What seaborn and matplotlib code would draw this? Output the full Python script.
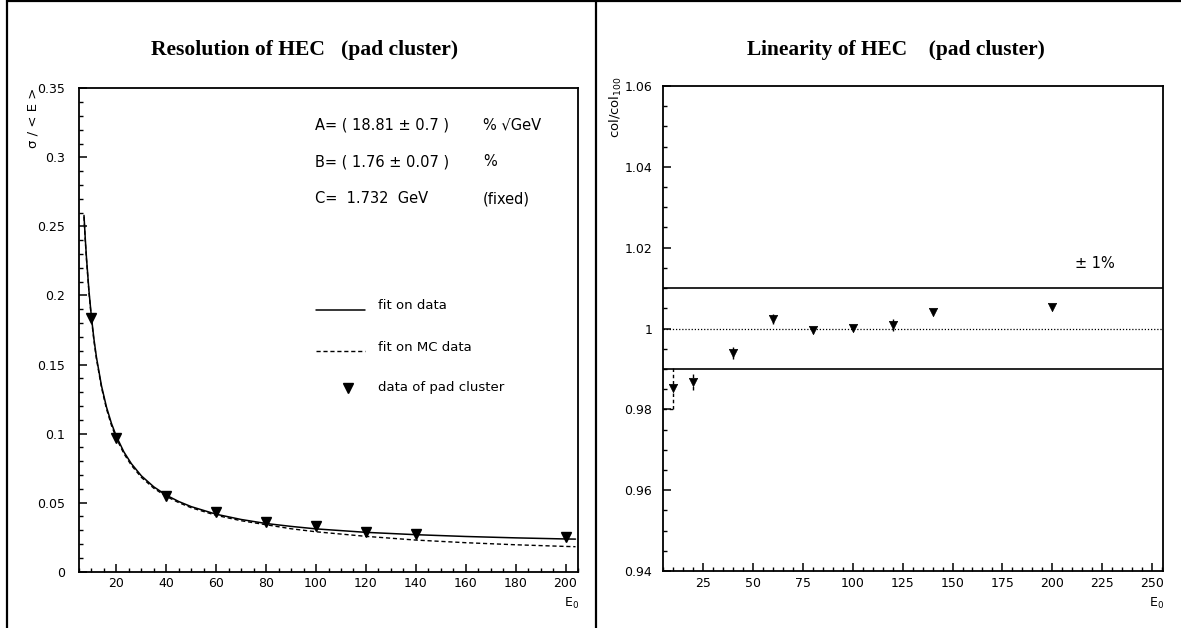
import numpy as np
import pandas as pd
import matplotlib
matplotlib.use("Agg")
import matplotlib.pyplot as plt
from matplotlib.lines import Line2D
from matplotlib.ticker import MultipleLocator, FuncFormatter
import seaborn as sns

# ---------------- data ----------------
res_energy = [10, 20, 40, 60, 80, 100, 120, 140, 200]
res_sigma = [0.1835, 0.0966, 0.0550, 0.0429, 0.0357, 0.0328, 0.0291, 0.0270, 0.0248]

fit_energy = [7, 7.5, 8, 9, 10, 11, 12, 14, 16, 18, 20, 23, 26, 30, 35, 40, 45, 50,
              60, 70, 80, 90, 100, 120, 140, 160, 180, 200, 204]
fit_data = [0.2580, 0.2416, 0.2272, 0.2032, 0.1840, 0.1683, 0.1552, 0.1347, 0.1193,
            0.1074, 0.0979, 0.0867, 0.0782, 0.0694, 0.0614, 0.0554, 0.0508, 0.0471,
            0.0416, 0.0378, 0.0349, 0.0328, 0.0310, 0.0285, 0.0268, 0.0255, 0.0245,
            0.0237, 0.0236]
fit_mc = [0.2570, 0.2400, 0.2260, 0.2020, 0.1830, 0.1670, 0.1540, 0.1335, 0.1180,
          0.1060, 0.0965, 0.0855, 0.0770, 0.0683, 0.0604, 0.0545, 0.0500, 0.0463,
          0.0408, 0.0369, 0.0340, 0.0311, 0.0289, 0.0256, 0.0229, 0.0210, 0.0195,
          0.0183, 0.0181]

lin_energy = [10, 20, 40, 60, 80, 100, 120, 140, 200]
lin_ratio = [0.9852, 0.9867, 0.9939, 1.0023, 0.9996, 1.0001, 1.0009, 1.0041, 1.0053]
lin_err = [0.0050, 0.0020, 0.0015, 0.0012, 0.0008, 0.0006, 0.0015, 0.0004, 0.0004]
band_levels = [0.99, 1.01]
ref_level = 1.0

res_title = "Resolution of HEC   (pad cluster)"
lin_title = "Linearity of HEC    (pad cluster)"
fit_texts = [("A= ( 18.81 \u00b1 0.7 )", "% \u221aGeV"),
             ("B= ( 1.76 \u00b1 0.07 )", "%"),
             ("C=  1.732  GeV", "(fixed)")]
legend_labels = ["fit on data", "fit on MC data", "data of pad cluster"]

# ---------------- style ----------------
sns.set_style("ticks")
plt.rcParams["font.family"] = ["DejaVu Sans"]
plt.rcParams["axes.linewidth"] = 1.3
plt.rcParams["text.color"] = "black"
plt.rcParams["axes.labelcolor"] = "black"

W, H = 1181, 628
fig = plt.figure(figsize=(W / 100, H / 100), dpi=100)


def fx(px):
    return px / W


def fy(py):
    return 1 - py / H


ax1 = fig.add_axes([fx(79), fy(571.7), (578 - 79) / W, (571.7 - 88.3) / H])
ax2 = fig.add_axes([fx(663.3), fy(571), (1163 - 663.3) / W, (571 - 86) / H])

fit_df = pd.DataFrame({"E": fit_energy, "data": fit_data, "mc": fit_mc})
res_df = pd.DataFrame({"E": res_energy, "sigma": res_sigma})
lin_df = pd.DataFrame({"E": lin_energy, "ratio": lin_ratio, "err": lin_err})

# ---------------- left: resolution ----------------
sns.lineplot(data=fit_df, x="E", y="data", ax=ax1, color="black", lw=1.1,
             sort=False, estimator=None)
sns.lineplot(data=fit_df, x="E", y="mc", ax=ax1, color="black", lw=1.0,
             sort=False, estimator=None, linestyle=(0, (3, 2)))
ax1.plot(res_df["E"], res_df["sigma"], linestyle="none", marker="v",
         markersize=6.5, color="black")
ax1.set_xlim(5, 205)
ax1.set_ylim(0, 0.35)
ax1.xaxis.set_major_locator(MultipleLocator(20))
ax1.xaxis.set_minor_locator(MultipleLocator(5))
ax1.yaxis.set_major_locator(MultipleLocator(0.05))
ax1.yaxis.set_minor_locator(MultipleLocator(0.01))
ax1.yaxis.set_major_formatter(FuncFormatter(lambda v, p: f"{v:g}"))

# fit parameter texts
for (left, right), yy in zip(fit_texts, [0.924, 0.848, 0.772]):
    ax1.text(0.473, yy, left, transform=ax1.transAxes, ha="left", va="center", fontsize=10.5)
    ax1.text(0.8096, yy, right, transform=ax1.transAxes, ha="left", va="center", fontsize=10.5)

# legend
ax1.add_line(Line2D([0.475, 0.573], [0.5414, 0.5414], transform=ax1.transAxes,
                    color="black", lw=1.1))
ax1.add_line(Line2D([0.475, 0.573], [0.4572, 0.4572], transform=ax1.transAxes,
                    color="black", lw=1.0, linestyle=(0, (3, 2))))
ax1.add_line(Line2D([0.5385], [0.380], transform=ax1.transAxes, color="black",
                    marker="v", markersize=6.5, linestyle="none"))
for lab, yy in zip(legend_labels, [0.5497, 0.4648, 0.382]):
    ax1.text(0.599, yy, lab, transform=ax1.transAxes, ha="left", va="center", fontsize=9.5)

# ---------------- right: linearity ----------------
for lev in band_levels:
    ax2.axhline(lev, color="black", lw=1.2)
ax2.axhline(ref_level, color="black", lw=0.9, linestyle=(0, (1, 1.5)))

eb = ax2.errorbar(lin_df["E"][:2], lin_df["ratio"][:2], yerr=lin_df["err"][:2],
                  fmt="none", ecolor="black", elinewidth=1.0, capsize=0)
eb[2][0].set_linestyle((0, (2.5, 2)))
ax2.errorbar(lin_df["E"][2:], lin_df["ratio"][2:], yerr=lin_df["err"][2:],
             fmt="none", ecolor="black", elinewidth=1.0, capsize=0)
low0 = lin_ratio[0] - lin_err[0]
ax2.plot([5, lin_energy[0]], [low0, low0], color="black", lw=1.0,
         linestyle=(0, (2.5, 2)))
sns.scatterplot(data=lin_df, x="E", y="ratio", ax=ax2, marker="v", s=36,
                color="black", edgecolor="black", linewidth=0.5, zorder=5)
ax2.set_xlim(5, 255.5)
ax2.set_ylim(0.94, 1.06)
ax2.xaxis.set_major_locator(MultipleLocator(25))
ax2.xaxis.set_minor_locator(MultipleLocator(5))
ax2.yaxis.set_major_locator(MultipleLocator(0.02))
ax2.yaxis.set_minor_locator(MultipleLocator(0.005))
ax2.yaxis.set_major_formatter(FuncFormatter(lambda v, p: f"{v:g}"))
ax2.text(0.824, 0.635, "\u00b1 1%", transform=ax2.transAxes, ha="left",
         va="center", fontsize=10.5)

for ax, ypad in [(ax1, 10), (ax2, 8)]:
    ax.set_xlabel("")
    ax.set_ylabel("")
    for s in ax.spines.values():
        s.set_visible(True)
        s.set_color("black")
    ax.tick_params(axis="both", which="both", direction="in", top=False,
                   right=False, colors="black", labelsize=9)
    ax.tick_params(axis="both", which="major", length=6, width=1.1)
    ax.tick_params(axis="both", which="minor", length=3.2, width=1.0)
    ax.tick_params(axis="y", which="major", pad=ypad)
    ax.tick_params(axis="x", which="major", pad=4)

# titles & axis labels
fig.text(fx(305), fy(50), res_title, ha="center", va="center",
         fontsize=15.6, fontweight="bold", family=["Liberation Serif"])
fig.text(fx(896), fy(50), lin_title, ha="center", va="center",
         fontsize=15.4, fontweight="bold", family=["Liberation Serif"])
fig.text(fx(33), fy(88), "\u03c3 / < E >", rotation=90, ha="center", va="top", fontsize=9.5)
fig.text(fx(616), fy(76), r"col/col$_{100}$", rotation=90, ha="center", va="top", fontsize=9.5)
fig.text(fx(572), fy(603), r"E$_0$", ha="center", va="center", fontsize=9)
fig.text(fx(1157), fy(603), r"E$_0$", ha="center", va="center", fontsize=9)

# page frame
fig.add_artist(Line2D([fx(7), fx(7)], [0, 1], transform=fig.transFigure, color="black", lw=1.6))
fig.add_artist(Line2D([fx(596), fx(596)], [0, 1], transform=fig.transFigure, color="black", lw=1.6))
fig.add_artist(Line2D([fx(7), 1], [fy(1), fy(1)], transform=fig.transFigure, color="black", lw=1.6))

fig.savefig("out.png", dpi=100, facecolor="white")
